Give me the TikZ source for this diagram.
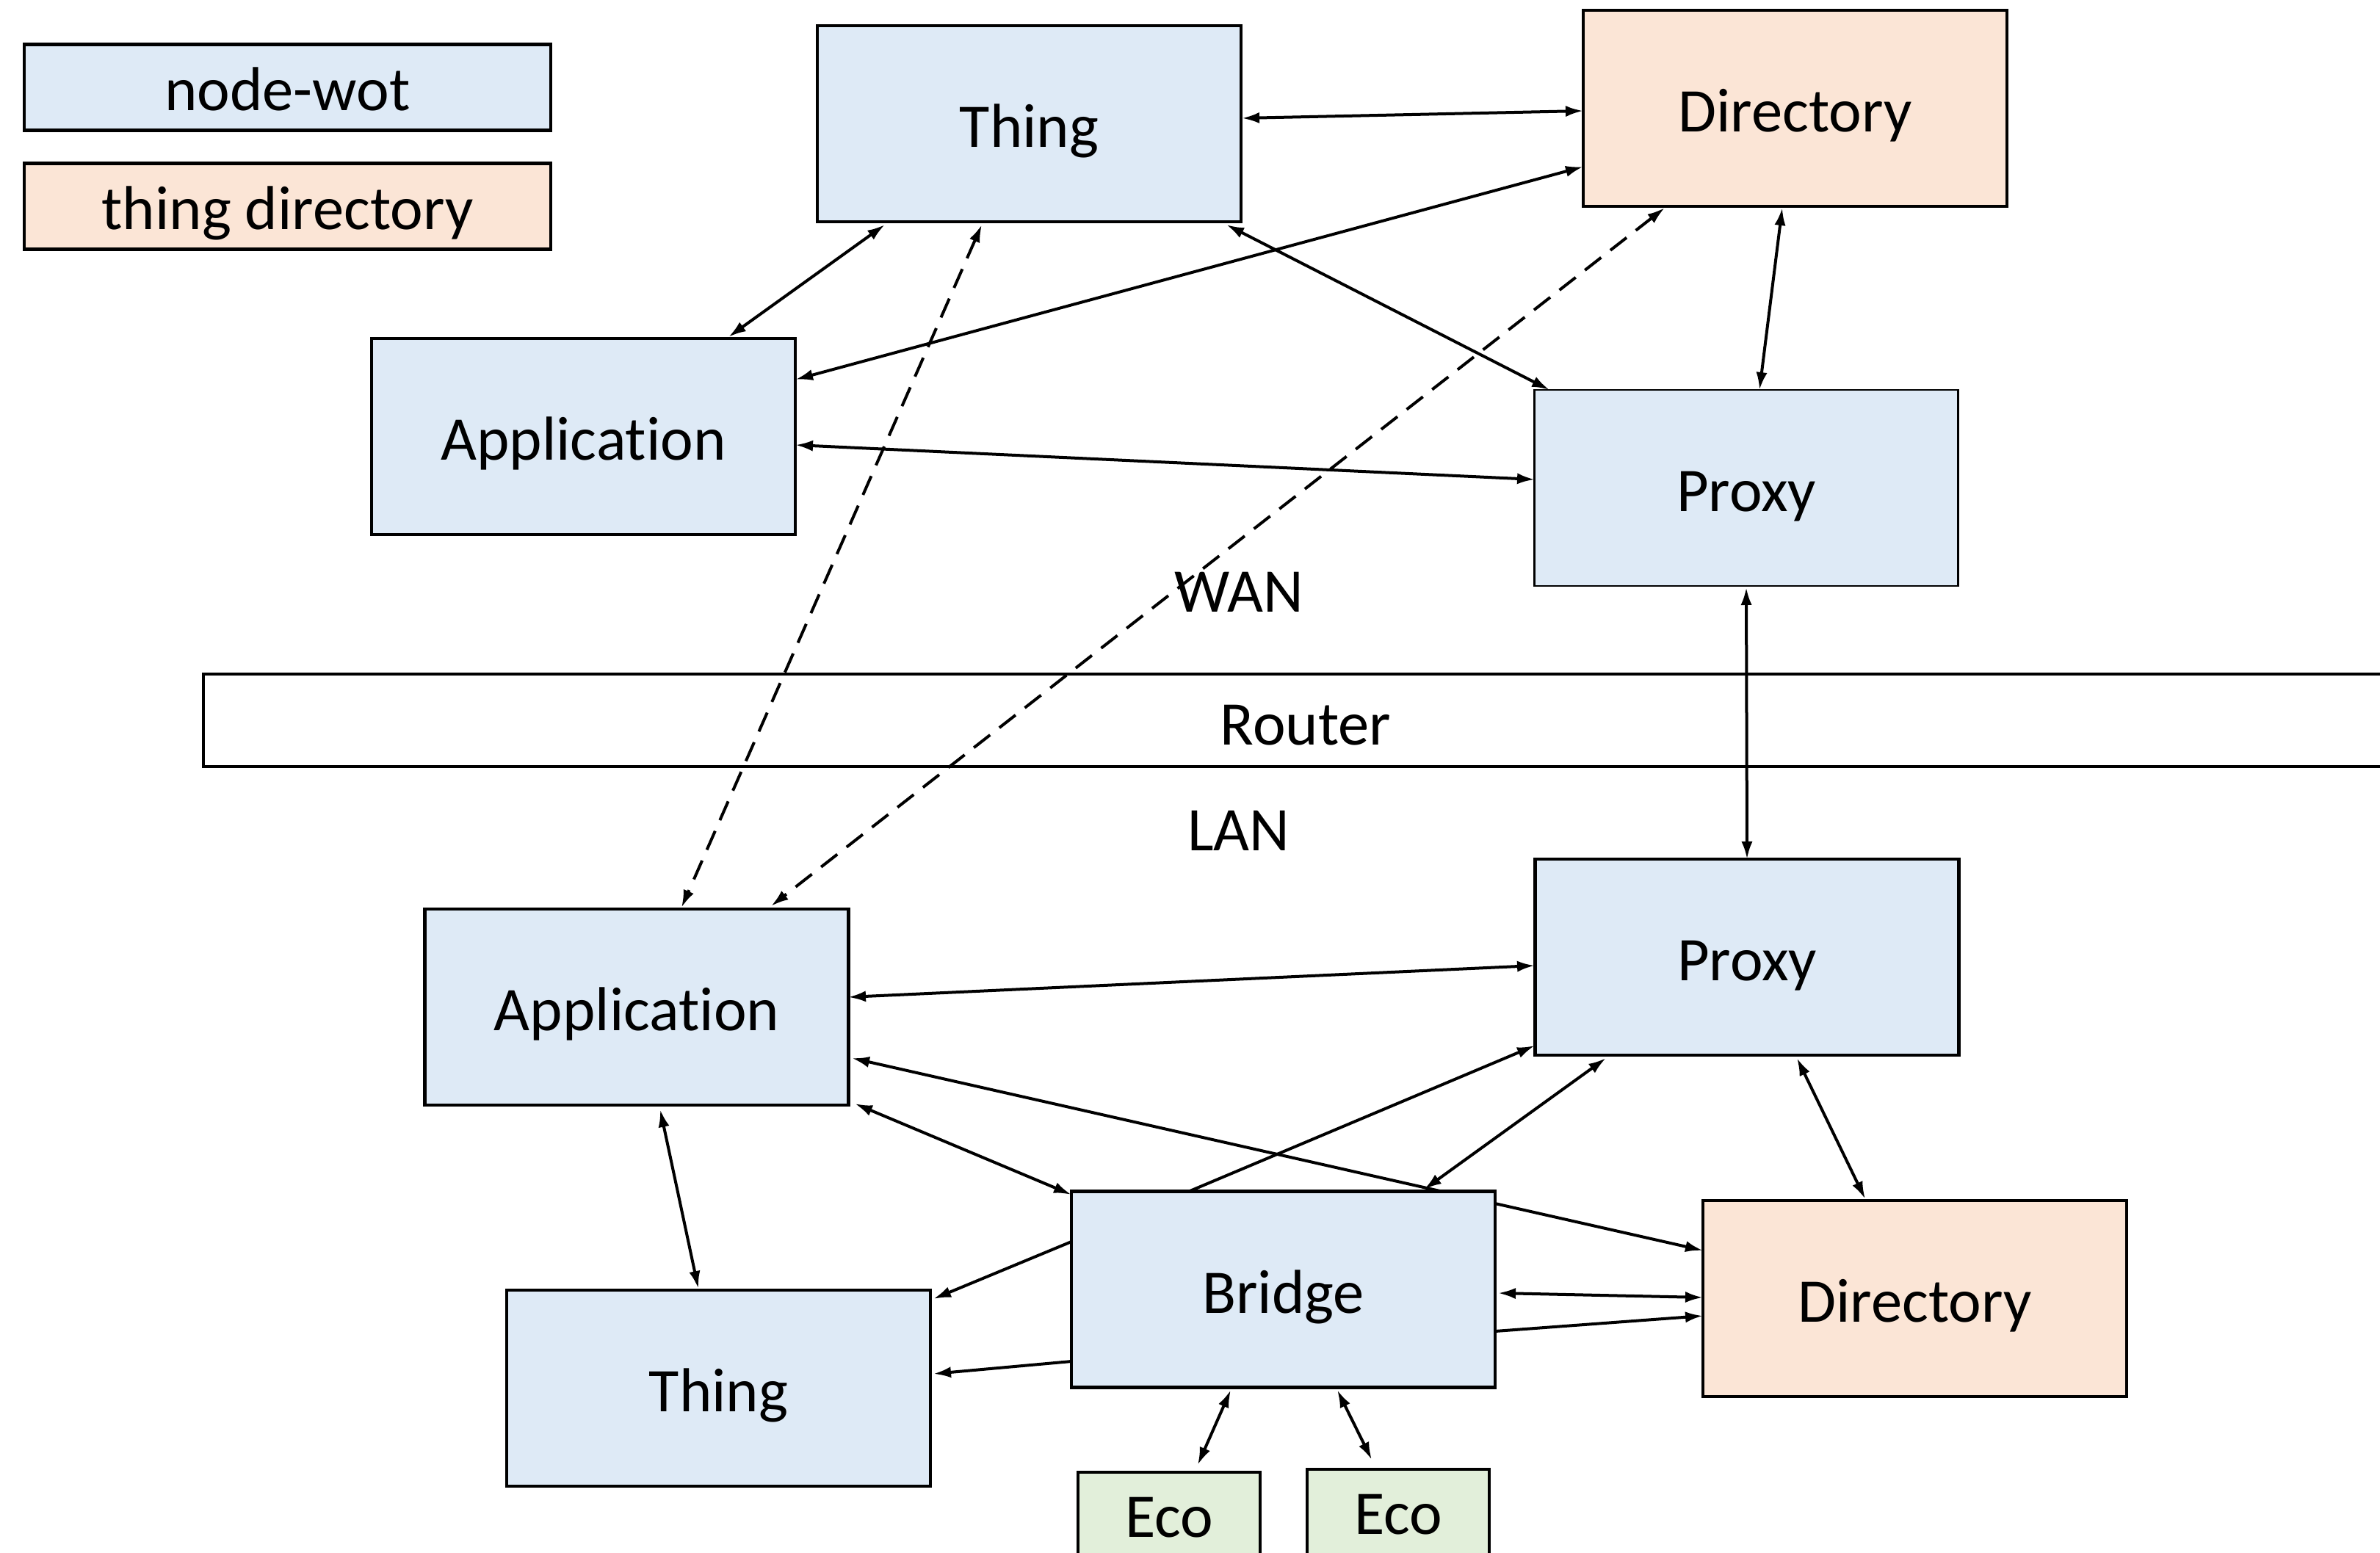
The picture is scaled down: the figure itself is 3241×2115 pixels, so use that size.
\documentclass[tikz,border=0pt]{standalone}
\usepackage{fontspec}
\setmainfont{Carlito}[Ligatures=NoCommon]
\usetikzlibrary{arrows.meta,calc,backgrounds}
\definecolor{wotblue}{HTML}{DEEAF6}
\definecolor{tdorange}{HTML}{FBE5D6}
\definecolor{ecogreen}{HTML}{E2EFDA}
\tikzset{
  box/.style={draw=black, line width=1.2pt, minimum width=144.25pt, minimum height=66.75pt, inner sep=0pt, text height=21pt, text depth=5pt, font=\fontsize{21.15pt}{25pt}\selectfont},
  wot/.style={box, fill=wotblue},
  tdir/.style={box, fill=tdorange},
  ecobox/.style={box, fill=ecogreen, minimum width=62pt, minimum height=30pt, text height=19pt},
  legbox/.style={box, minimum width=179.25pt, minimum height=29.25pt},
  lbl/.style={font=\fontsize{21.15pt}{25pt}\selectfont, inner sep=0pt},
  link/.style={line width=1pt, {Latex[length=6pt,width=3.8pt]}-{Latex[length=6pt,width=3.8pt]}},
  oneway/.style={line width=1pt, -{Latex[length=6pt,width=3.8pt]}},
  dlink/.style={link, dash pattern=on 7pt off 4pt}
}
\begin{document}
\begin{tikzpicture}[x=0.25pt,y=-0.25pt]
\useasboundingbox (0,0) rectangle (3241,2115);

% legend
\node[legbox, fill=wotblue] (legA) at (391.5,119) {node-wot};
\node[legbox, fill=tdorange] (legB) at (391.5,281) {thing directory};

% WAN side
\node[wot] (thingT) at (1401.5,168.5) {Thing};
\node[tdir] (dirT) at (2444.5,147.5) {Directory};
\node[wot] (appT) at (794.5,594.5) {Application};
\node[wot, line width=0.6pt] (proxT) at (2378,664.5) {Proxy};

% router between the networks
\node[lbl] (wan) at (1687,806) {WAN};
\node[draw=black, line width=1.2pt, minimum width=750.5pt, minimum height=31.5pt, inner sep=0pt, text height=22pt, text depth=5pt, font=\fontsize{21.15pt}{25pt}\selectfont] (router) at (1778,981) {Router};
\node[lbl] (lan) at (1687,1131) {LAN};

% LAN side
\node[wot] (proxB) at (2379,1303.5) {Proxy};
\node[wot] (appB) at (867,1371.5) {Application};
\node[wot] (bridge) at (1747.5,1756) {Bridge};
\node[tdir] (dirB) at (2607.5,1768.5) {Directory};
\node[wot] (thingB) at (978.5,1890.5) {Thing};
\node[ecobox] (eco1) at (1592,2065) {Eco};
\node[ecobox] (eco2) at (1904,2061) {Eco};

\begin{scope}[on background layer]
  % WAN links
  \draw[link] ($(thingT)+(289.5,-7.5)$) -- ($(dirT)+(-288.5,3.5)$);
  \draw[link] ($(thingT)+(-196.5,137.5)$) -- ($(appT)+(197.5,-135.5)$);
  \draw[link] ($(dirT)+(-288.5,79.5)$) -- ($(appT)+(288.5,-77.5)$);
  \draw[link] ($(appT)+(288.5,11.5)$) -- ($(proxT)+(-288,-11.5)$);
  \draw[link] ($(thingT)+(268.5,137.5)$) -- ($(proxT)+(-268,-133.5)$);
  \draw[link] ($(dirT)+(-17.5,135.5)$) -- ($(proxT)+(18,-133.5)$);
  % links through the router
  \draw[dlink] ($(thingT)+(-64.5,137.5)$) -- ($(appB)+(61,-135.5)$);
  \draw[dlink] ($(dirT)+(-177.5,135.5)$) -- ($(appB)+(183,-137.5)$);
  \draw[link] ($(proxT)+(0,135.5)$) -- ($(proxB)+(0,-133.5)$);
  % LAN links
  \draw[link] ($(appB)+(288,-13.5)$) -- ($(proxB)+(-289,11.5)$);
  \draw[link] ($(appB)+(293,69.5)$) -- ($(dirB)+(-288.5,-65.5)$);
  \draw[link] ($(appB)+(297,131.5)$) -- ($(bridge)+(-288.5,-129)$);
  \draw[link] ($(appB)+(32,139.5)$) -- ($(thingB)+(-27.5,-135.5)$);
  \draw[oneway] ($(bridge)+(-288.5,-65)$) -- ($(thingB)+(292.5,-121.5)$);
  \draw[oneway] ($(bridge)+(-288.5,98)$) -- ($(thingB)+(292.5,-19.5)$);
  \draw[oneway] ($(bridge)+(-129.5,-133)$) -- ($(proxB)+(-289,120.5)$);
  \draw[link] ($(proxB)+(-192,137.5)$) -- ($(bridge)+(191.5,-136)$);
  \draw[link] ($(proxB)+(68,137.5)$) -- ($(dirB)+(-67.5,-135.5)$);
  \draw[link] ($(bridge)+(292.5,5)$) -- ($(dirB)+(-288.5,-1.5)$);
  \draw[oneway] ($(bridge)+(288.5,57)$) -- ($(dirB)+(-288.5,23.5)$);
  \draw[link] ($(bridge)+(-71.5,137)$) -- ($(eco1)+(39,-70)$);
  \draw[link] ($(bridge)+(73.5,137)$) -- ($(eco2)+(-36,-73)$);
\end{scope}
\end{tikzpicture}
\end{document}
